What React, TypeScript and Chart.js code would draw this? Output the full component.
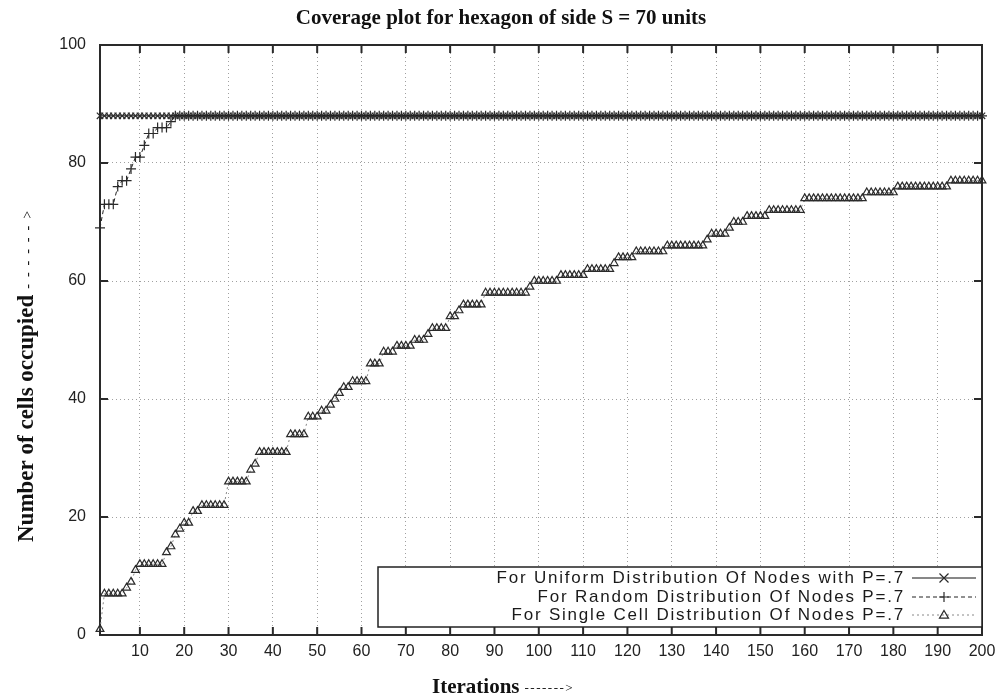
import React, { useEffect, useRef } from 'react';
import { Chart, registerables } from 'chart.js';

Chart.register(...registerables);

const chartTitle = 'Coverage plot for hexagon of side S = 70 units';
const xAxisTitle = 'Iterations';
const xAxisArrow = '------->';
const yAxisTitle = 'Number of cells occupied';
const yAxisArrow = '------>';

const seriesLabels = [
  'For Uniform Distribution Of Nodes with P=.7',
  'For Random Distribution Of Nodes P=.7',
  'For Single Cell Distribution Of Nodes P=.7',
];

const xTickValues = [10, 20, 30, 40, 50, 60, 70, 80, 90, 100, 110, 120, 130, 140, 150, 160, 170, 180, 190, 200];
const yTickValues = [0, 20, 40, 60, 80, 100];

const iterations = Array.from({ length: 200 }, (_, i) => i + 1);

const uniformValues = [
  88, 88, 88, 88, 88, 88, 88, 88, 88, 88,
  88, 88, 88, 88, 88, 88, 88, 88, 88, 88,
  88, 88, 88, 88, 88, 88, 88, 88, 88, 88,
  88, 88, 88, 88, 88, 88, 88, 88, 88, 88,
  88, 88, 88, 88, 88, 88, 88, 88, 88, 88,
  88, 88, 88, 88, 88, 88, 88, 88, 88, 88,
  88, 88, 88, 88, 88, 88, 88, 88, 88, 88,
  88, 88, 88, 88, 88, 88, 88, 88, 88, 88,
  88, 88, 88, 88, 88, 88, 88, 88, 88, 88,
  88, 88, 88, 88, 88, 88, 88, 88, 88, 88,
  88, 88, 88, 88, 88, 88, 88, 88, 88, 88,
  88, 88, 88, 88, 88, 88, 88, 88, 88, 88,
  88, 88, 88, 88, 88, 88, 88, 88, 88, 88,
  88, 88, 88, 88, 88, 88, 88, 88, 88, 88,
  88, 88, 88, 88, 88, 88, 88, 88, 88, 88,
  88, 88, 88, 88, 88, 88, 88, 88, 88, 88,
  88, 88, 88, 88, 88, 88, 88, 88, 88, 88,
  88, 88, 88, 88, 88, 88, 88, 88, 88, 88,
  88, 88, 88, 88, 88, 88, 88, 88, 88, 88,
  88, 88, 88, 88, 88, 88, 88, 88, 88, 88,
];

const randomValues = [
  69, 73, 73, 73, 76, 77, 77, 79, 81, 81,
  83, 85, 85, 86, 86, 86, 87, 88, 88, 88,
  88, 88, 88, 88, 88, 88, 88, 88, 88, 88,
  88, 88, 88, 88, 88, 88, 88, 88, 88, 88,
  88, 88, 88, 88, 88, 88, 88, 88, 88, 88,
  88, 88, 88, 88, 88, 88, 88, 88, 88, 88,
  88, 88, 88, 88, 88, 88, 88, 88, 88, 88,
  88, 88, 88, 88, 88, 88, 88, 88, 88, 88,
  88, 88, 88, 88, 88, 88, 88, 88, 88, 88,
  88, 88, 88, 88, 88, 88, 88, 88, 88, 88,
  88, 88, 88, 88, 88, 88, 88, 88, 88, 88,
  88, 88, 88, 88, 88, 88, 88, 88, 88, 88,
  88, 88, 88, 88, 88, 88, 88, 88, 88, 88,
  88, 88, 88, 88, 88, 88, 88, 88, 88, 88,
  88, 88, 88, 88, 88, 88, 88, 88, 88, 88,
  88, 88, 88, 88, 88, 88, 88, 88, 88, 88,
  88, 88, 88, 88, 88, 88, 88, 88, 88, 88,
  88, 88, 88, 88, 88, 88, 88, 88, 88, 88,
  88, 88, 88, 88, 88, 88, 88, 88, 88, 88,
  88, 88, 88, 88, 88, 88, 88, 88, 88, 88,
];

const singleCellValues = [
  1, 7, 7, 7, 7, 7, 8, 9, 11, 12,
  12, 12, 12, 12, 12, 14, 15, 17, 18, 19,
  19, 21, 21, 22, 22, 22, 22, 22, 22, 26,
  26, 26, 26, 26, 28, 29, 31, 31, 31, 31,
  31, 31, 31, 34, 34, 34, 34, 37, 37, 37,
  38, 38, 39, 40, 41, 42, 42, 43, 43, 43,
  43, 46, 46, 46, 48, 48, 48, 49, 49, 49,
  49, 50, 50, 50, 51, 52, 52, 52, 52, 54,
  54, 55, 56, 56, 56, 56, 56, 58, 58, 58,
  58, 58, 58, 58, 58, 58, 58, 59, 60, 60,
  60, 60, 60, 60, 61, 61, 61, 61, 61, 61,
  62, 62, 62, 62, 62, 62, 63, 64, 64, 64,
  64, 65, 65, 65, 65, 65, 65, 65, 66, 66,
  66, 66, 66, 66, 66, 66, 66, 67, 68, 68,
  68, 68, 69, 70, 70, 70, 71, 71, 71, 71,
  71, 72, 72, 72, 72, 72, 72, 72, 72, 74,
  74, 74, 74, 74, 74, 74, 74, 74, 74, 74,
  74, 74, 74, 75, 75, 75, 75, 75, 75, 75,
  76, 76, 76, 76, 76, 76, 76, 76, 76, 76,
  76, 76, 77, 77, 77, 77, 77, 77, 77, 77,
];

function drawMarker(ctx: CanvasRenderingContext2D, style: string, x: number, y: number, r: number) {
  ctx.beginPath();
  if (style === 'crossRot') {
    ctx.moveTo(x - r, y - r);
    ctx.lineTo(x + r, y + r);
    ctx.moveTo(x - r, y + r);
    ctx.lineTo(x + r, y - r);
  } else if (style === 'cross') {
    ctx.moveTo(x - r, y);
    ctx.lineTo(x + r, y);
    ctx.moveTo(x, y - r);
    ctx.lineTo(x, y + r);
  } else {
    ctx.moveTo(x, y - r);
    ctx.lineTo(x + r, y + r * 0.7);
    ctx.lineTo(x - r, y + r * 0.7);
    ctx.closePath();
  }
  ctx.stroke();
}

const serifBold = '"Liberation Serif", "Times New Roman", serif';

const decorPlugin = {
  id: 'decor',
  beforeDatasetsDraw(chart: any) {
    const { ctx, chartArea: a, scales } = chart;
    ctx.save();
    ctx.setLineDash([]);
    ctx.strokeStyle = '#2a2a2a';
    ctx.lineWidth = 2;
    ctx.strokeRect(a.left, a.top, a.right - a.left, a.bottom - a.top);
    ctx.beginPath();
    for (const v of xTickValues) {
      const px = scales.x.getPixelForValue(v);
      ctx.moveTo(px, a.bottom);
      ctx.lineTo(px, a.bottom - 8);
      ctx.moveTo(px, a.top);
      ctx.lineTo(px, a.top + 8);
    }
    for (const v of yTickValues) {
      const py = scales.y.getPixelForValue(v);
      ctx.moveTo(a.left, py);
      ctx.lineTo(a.left + 8, py);
      ctx.moveTo(a.right, py);
      ctx.lineTo(a.right - 8, py);
    }
    ctx.stroke();
    ctx.restore();
  },
  afterDraw(chart: any) {
    const { ctx, chartArea: a } = chart;
    ctx.save();

    // title
    ctx.fillStyle = '#111';
    ctx.textAlign = 'center';
    ctx.textBaseline = 'middle';
    ctx.font = `bold 21px ${serifBold}`;
    ctx.fillText(chartTitle, 501, 19);

    // legend box
    const boxLeft = 378;
    const boxTop = 567;
    const boxRight = a.right;
    const boxBottom = 627;
    ctx.fillStyle = '#ffffff';
    ctx.fillRect(boxLeft, boxTop, boxRight - boxLeft, boxBottom - boxTop);
    ctx.strokeStyle = '#222';
    ctx.lineWidth = 1.5;
    ctx.setLineDash([]);
    ctx.strokeRect(boxLeft, boxTop, boxRight - boxLeft, boxBottom - boxTop);
    const rowYs = [578, 597, 615];
    ctx.font = '17px "Liberation Sans", Arial, sans-serif';
    (ctx as any).letterSpacing = '1.8px';
    ctx.textAlign = 'right';
    ctx.textBaseline = 'middle';
    chart.data.datasets.forEach((ds: any, i: number) => {
      const y = rowYs[i];
      ctx.fillStyle = '#1a1a1a';
      ctx.fillText(ds.label, 905, y);
      ctx.strokeStyle = ds.borderColor;
      ctx.lineWidth = 1;
      ctx.setLineDash(ds.borderDash || []);
      ctx.beginPath();
      ctx.moveTo(912, y);
      ctx.lineTo(976, y);
      ctx.stroke();
      ctx.setLineDash([]);
      ctx.strokeStyle = ds.pointBorderColor;
      ctx.lineWidth = ds.pointBorderWidth;
      drawMarker(ctx, ds.pointStyle, 944, y, ds.pointRadius);
    });
    (ctx as any).letterSpacing = '0px';

    // x axis title
    ctx.fillStyle = '#111';
    ctx.textBaseline = 'middle';
    ctx.textAlign = 'left';
    ctx.font = `bold 21px ${serifBold}`;
    const xTitleStart = 432;
    const w1 = ctx.measureText(xAxisTitle).width;
    ctx.fillText(xAxisTitle, xTitleStart, 688);
    ctx.font = `13px ${serifBold}`;
    (ctx as any).letterSpacing = '1.5px';
    ctx.fillText(xAxisArrow, xTitleStart + w1 + 5, 689);
    (ctx as any).letterSpacing = '0px';

    // y axis title (rotated)
    ctx.translate(27, 0);
    ctx.rotate(-Math.PI / 2);
    ctx.textAlign = 'left';
    ctx.font = `bold 23px ${serifBold}`;
    const yStart = -542;
    const wy = ctx.measureText(yAxisTitle).width;
    ctx.fillText(yAxisTitle, yStart, 0);
    ctx.font = `14px ${serifBold}`;
    (ctx as any).letterSpacing = '7px';
    ctx.fillText(yAxisArrow, yStart + wy + 6, 1);
    (ctx as any).letterSpacing = '0px';
    ctx.restore();
  },
};

export default function App() {
  const canvasRef = useRef<HTMLCanvasElement | null>(null);

  useEffect(() => {
    document.body.style.margin = '0';
    const canvas = canvasRef.current;
    if (!canvas) return;
    const toPoints = (vals: number[]) => iterations.map((x, i) => ({ x, y: vals[i] }));
    const chart = new Chart(canvas, {
      type: 'line',
      data: {
        datasets: [
          {
            label: seriesLabels[0],
            data: toPoints(uniformValues),
            borderColor: '#111',
            borderWidth: 1,
            borderDash: [],
            pointStyle: 'crossRot',
            pointRadius: 4.5,
            pointBorderColor: '#2a2a2a',
            pointBackgroundColor: 'rgba(0,0,0,0)',
            pointBorderWidth: 1.2,
            fill: false,
            clip: 8,
          },
          {
            label: seriesLabels[1],
            data: toPoints(randomValues),
            borderColor: '#222',
            borderWidth: 1,
            borderDash: [4, 3],
            pointStyle: 'cross',
            pointRadius: 5,
            pointBorderColor: '#2a2a2a',
            pointBackgroundColor: 'rgba(0,0,0,0)',
            pointBorderWidth: 1.2,
            fill: false,
            clip: 8,
          },
          {
            label: seriesLabels[2],
            data: toPoints(singleCellValues),
            borderColor: '#888',
            borderWidth: 1,
            borderDash: [2, 3],
            pointStyle: 'triangle',
            pointRadius: 4.5,
            pointBorderColor: '#2a2a2a',
            pointBackgroundColor: 'rgba(0,0,0,0)',
            pointBorderWidth: 1.2,
            fill: false,
            clip: 8,
          },
        ] as any,
      },
      options: {
        animation: false,
        responsive: false,
        devicePixelRatio: 1,
        layout: { padding: { left: 0, right: 21, top: 45, bottom: 0 } },
        plugins: {
          legend: { display: false },
          tooltip: { enabled: false },
          title: { display: false },
        },
        scales: {
          x: {
            type: 'linear',
            min: 1,
            max: 200,
            afterBuildTicks: (scale: any) => {
              scale.ticks = xTickValues.map((v) => ({ value: v }));
            },
            afterFit: (scale: any) => {
              scale.height = 65;
            },
            ticks: {
              autoSkip: false,
              maxRotation: 0,
              padding: 7,
              color: '#222',
              font: { family: '"Liberation Sans", Arial, sans-serif', size: 16 },
            },
            grid: { color: '#a0a0a0', lineWidth: 1, drawTicks: false },
            border: { display: false, dash: [1, 3] },
          },
          y: {
            type: 'linear',
            min: 0,
            max: 100,
            afterBuildTicks: (scale: any) => {
              scale.ticks = yTickValues.map((v) => ({ value: v }));
            },
            afterFit: (scale: any) => {
              scale.width = 100;
            },
            ticks: {
              padding: 14,
              color: '#222',
              font: { family: '"Liberation Sans", Arial, sans-serif', size: 16 },
            },
            grid: { color: '#a0a0a0', lineWidth: 1, drawTicks: false },
            border: { display: false, dash: [1, 3] },
          },
        },
      },
      plugins: [decorPlugin],
    });
    return () => chart.destroy();
  }, []);

  return (
    <div style={{ width: 1003, height: 700, background: '#fff' }}>
      <canvas ref={canvasRef} width={1003} height={700} />
    </div>
  );
}
